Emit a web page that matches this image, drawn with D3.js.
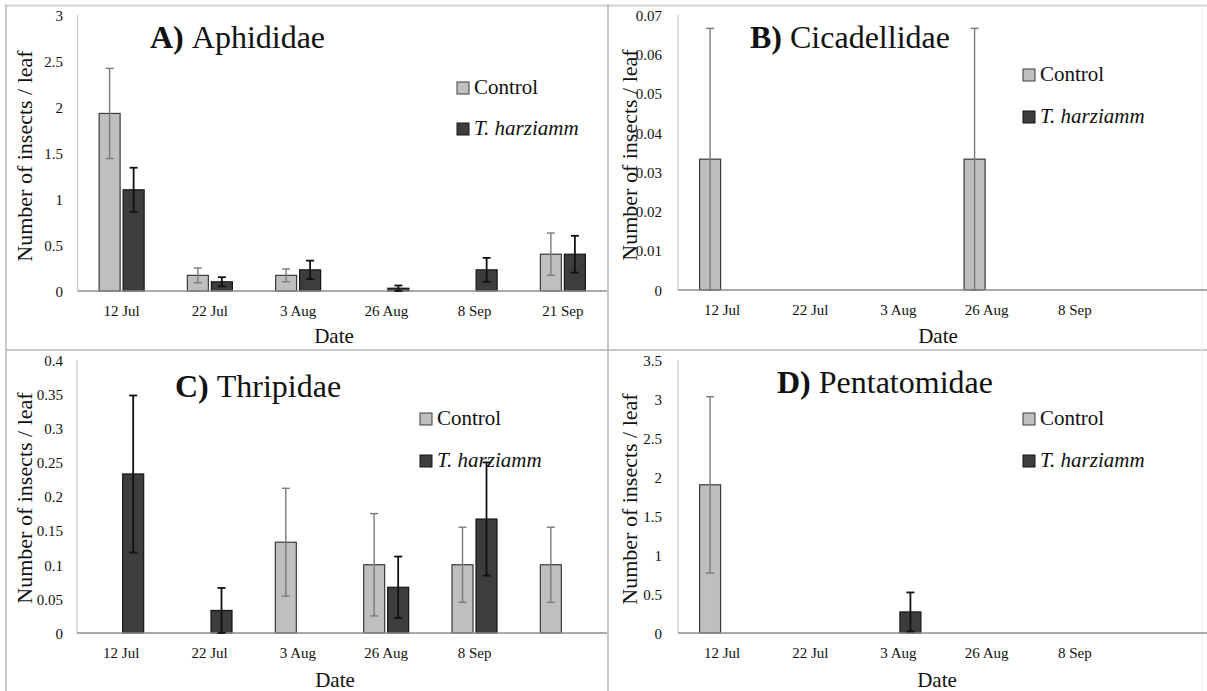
<!DOCTYPE html>
<html><head><meta charset="utf-8">
<script src="https://cdn.jsdelivr.net/npm/d3@7"></script>
<style>
html,body{margin:0;padding:0;background:#fff;}
svg{display:block;}
svg text{font-family:"Liberation Serif","Times New Roman",serif !important;fill:#111;}
</style></head>
<body>
<svg id="chart" width="1207" height="691" font-family="Liberation Serif"></svg>
<script>
// ---------- DATA ----------
const datesA = ["12 Jul", "22 Jul", "3 Aug", "26 Aug", "8 Sep", "21 Sep"];
const datesB = ["12 Jul", "22 Jul", "3 Aug", "26 Aug", "8 Sep", ""];
const datesC = ["12 Jul", "22 Jul", "3 Aug", "26 Aug", "8 Sep", ""];
const datesD = ["12 Jul", "22 Jul", "3 Aug", "26 Aug", "8 Sep", ""];

const aphidControl    = [1.93, 0.17, 0.17, 0, 0, 0.40];
const aphidControlErr = [0.49, 0.08, 0.07, 0, 0, 0.23];
const aphidHarz       = [1.10, 0.10, 0.23, 0.03, 0.23, 0.40];
const aphidHarzErr    = [0.24, 0.05, 0.10, 0.03, 0.13, 0.20];

const cicaControl     = [0.0333, 0, 0, 0.0333, 0, 0];
const cicaControlErr  = [0.0333, 0, 0, 0.0333, 0, 0];
const cicaHarz        = [0, 0, 0, 0, 0, 0];
const cicaHarzErr     = [0, 0, 0, 0, 0, 0];

const thripControl    = [0, 0, 0.133, 0.10, 0.10, 0.10];
const thripControlErr = [0, 0, 0.079, 0.075, 0.055, 0.055];
const thripHarz       = [0.233, 0.033, 0, 0.067, 0.167, 0];
const thripHarzErr    = [0.115, 0.033, 0, 0.045, 0.083, 0];

const pentaControl    = [1.90, 0, 0, 0, 0, 0];
const pentaControlErr = [1.13, 0, 0, 0, 0, 0];
const pentaHarz       = [0, 0, 0.27, 0, 0, 0];
const pentaHarzErr    = [0, 0, 0.25, 0, 0, 0];

const ticksA = [0, 0.5, 1, 1.5, 2, 2.5, 3];
const ticksB = [0, 0.01, 0.02, 0.03, 0.04, 0.05, 0.06, 0.07];
const ticksC = [0, 0.05, 0.1, 0.15, 0.2, 0.25, 0.3, 0.35, 0.4];
const ticksD = [0, 0.5, 1, 1.5, 2, 2.5, 3, 3.5];

const seriesNames = ["Control", "T. harziamm"];
const yTitle = "Number of insects / leaf";
const xTitle = "Date";

// ---------- LAYOUT ----------
const FONT = '"Liberation Serif","Times New Roman",serif';
const svg = d3.select("#chart");
const colFill = ["#bfbfbf", "#3d3d3d"];
const colStroke = ["#3a3a3a", "#151515"];
const errColor = ["#7a7a7a", "#111"];
const errWidth = [1.4, 1.8];

// panel frame lines
const frame = svg.append("g");
frame.append("line").attr("x1", 5).attr("x2", 1207).attr("y1", 5.5).attr("y2", 5.5).attr("stroke", "#d4d4d4").attr("stroke-width", 2);
frame.append("line").attr("x1", 6).attr("x2", 6).attr("y1", 5).attr("y2", 691).attr("stroke", "#b4b4b4").attr("stroke-width", 1.5);
frame.append("line").attr("x1", 608).attr("x2", 608).attr("y1", 5).attr("y2", 691).attr("stroke", "#b4b4b4").attr("stroke-width", 1.5);
frame.append("line").attr("x1", 6).attr("x2", 1207).attr("y1", 350).attr("y2", 350).attr("stroke", "#b4b4b4").attr("stroke-width", 1.5);
frame.append("line").attr("x1", 1202).attr("x2", 1202).attr("y1", 5).attr("y2", 691).attr("stroke", "#ededed").attr("stroke-width", 1);

const panels = [
  {letter: "A)", name: "Aphididae", cats: datesA, c: aphidControl, ce: aphidControlErr, h: aphidHarz, he: aphidHarzErr, ticks: ticksA,
   ax: 77.5, axEnd: 607, y0: 291, y1: 15, titleX: 150, titleY: 48, legX: 457, legY: [94, 135], ylabX: 24, ylabY: 156, dateX: 334, dateY: 343, tickRight: 63},
  {letter: "B)", name: "Cicadellidae", cats: datesB, c: cicaControl, ce: cicaControlErr, h: cicaHarz, he: cicaHarzErr, ticks: ticksB,
   ax: 678, axEnd: 1207, y0: 290, y1: 15, titleX: 750, titleY: 48, legX: 1023, legY: [81, 123], ylabX: 629, ylabY: 155, dateX: 938, dateY: 343, tickRight: 662},
  {letter: "C)", name: "Thripidae", cats: datesC, c: thripControl, ce: thripControlErr, h: thripHarz, he: thripHarzErr, ticks: ticksC,
   ax: 77, axEnd: 607, y0: 633, y1: 360, titleX: 175, titleY: 397, legX: 420, legY: [425, 467], ylabX: 24, ylabY: 498, dateX: 335, dateY: 687, tickRight: 63},
  {letter: "D)", name: "Pentatomidae", cats: datesD, c: pentaControl, ce: pentaControlErr, h: pentaHarz, he: pentaHarzErr, ticks: ticksD,
   ax: 678, axEnd: 1207, y0: 633, y1: 360, titleX: 777, titleY: 393, legX: 1023, legY: [425, 467], ylabX: 629, ylabY: 499, dateX: 937, dateY: 687, tickRight: 662}
];

const fmt = v => String(+v.toFixed(3));

panels.forEach(p => {
  const g = svg.append("g").attr("font-family", FONT);
  const x = d3.scaleBand().domain(d3.range(p.cats.length)).range([p.ax, p.axEnd]).paddingInner(0).paddingOuter(0);
  const y = d3.scaleLinear().domain([0, d3.max(p.ticks)]).range([p.y0, p.y1]);
  const bw = 21, gap = 3;

  // y axis line
  g.append("line").attr("x1", p.ax).attr("x2", p.ax).attr("y1", y(0)).attr("y2", y(d3.max(p.ticks)))
    .attr("stroke", "#c8c8c8").attr("stroke-width", 1.2);

  // y tick labels
  const yAxis = d3.axisLeft(y).tickValues(p.ticks).tickFormat(fmt).tickSize(0).tickPadding(0);
  const ya = g.append("g").attr("transform", `translate(${p.tickRight},0)`).call(yAxis).attr("font-family", FONT);
  ya.select(".domain").remove();
  ya.selectAll("text").attr("font-size", 15).attr("fill", "#222").attr("dy", "0.35em");

  // bars
  const series = [{v: p.c, e: p.ce, off: -gap / 2 - bw}, {v: p.h, e: p.he, off: gap / 2}];
  series.forEach((s, si) => {
    const cx = i => x(i) + x.bandwidth() / 2 + s.off;
    g.selectAll(null).data(s.v.map((v, i) => ({v, i})).filter(d => d.v > 0)).join("rect")
      .attr("x", d => cx(d.i)).attr("width", bw)
      .attr("y", d => y(d.v)).attr("height", d => y(0) - y(d.v))
      .attr("fill", colFill[si]).attr("stroke", colStroke[si]).attr("stroke-width", 1.2);
  });

  // x axis line
  g.append("line").attr("x1", p.ax).attr("x2", p.axEnd).attr("y1", y(0)).attr("y2", y(0))
    .attr("stroke", "#8c8c8c").attr("stroke-width", 1.5);

  // error bars
  series.forEach((s, si) => {
    const ex = i => x(i) + x.bandwidth() / 2 + s.off + bw / 2;
    const data = s.v.map((v, i) => ({v, e: s.e[i], i})).filter(d => d.e > 0);
    const eg = g.append("g").attr("stroke", errColor[si]).attr("stroke-width", errWidth[si]);
    data.forEach(d => {
      const lo = Math.max(0, d.v - d.e), hi = d.v + d.e;
      eg.append("line").attr("x1", ex(d.i)).attr("x2", ex(d.i)).attr("y1", y(lo)).attr("y2", y(hi));
      eg.append("line").attr("x1", ex(d.i) - 4).attr("x2", ex(d.i) + 4).attr("y1", y(hi)).attr("y2", y(hi));
      eg.append("line").attr("x1", ex(d.i) - 4).attr("x2", ex(d.i) + 4).attr("y1", y(lo)).attr("y2", y(lo));
    });
  });

  // x tick labels
  const xAxis = d3.axisBottom(x).tickFormat(i => p.cats[i]).tickSize(0).tickPadding(0);
  const xa = g.append("g").attr("transform", `translate(0,${y(0) + 25})`).call(xAxis).attr("font-family", FONT);
  xa.select(".domain").remove();
  xa.selectAll("text").attr("font-size", 15).attr("fill", "#222").attr("dy", 0).attr("y", 0);

  // title
  const t = g.append("text").attr("x", p.titleX).attr("y", p.titleY).attr("font-size", 32);
  t.append("tspan").attr("font-weight", "bold").text(p.letter + " ");
  t.append("tspan").text(p.name);

  // legend
  seriesNames.forEach((n, si) => {
    g.append("rect").attr("x", p.legX).attr("y", p.legY[si] - 12).attr("width", 12).attr("height", 12)
      .attr("fill", colFill[si]).attr("stroke", colStroke[si]).attr("stroke-width", 1);
    g.append("text").attr("x", p.legX + 17).attr("y", p.legY[si]).attr("font-size", 21)
      .attr("font-style", si === 1 ? "italic" : "normal").text(n);
  });

  // axis titles
  g.append("text").attr("transform", `translate(${p.ylabX},${p.ylabY}) rotate(-90)`)
    .attr("text-anchor", "middle").attr("dy", "0.35em").attr("font-size", 22).text(yTitle);
  g.append("text").attr("x", p.dateX).attr("y", p.dateY).attr("text-anchor", "middle").attr("font-size", 21).text(xTitle);
});
</script>
</body></html>
